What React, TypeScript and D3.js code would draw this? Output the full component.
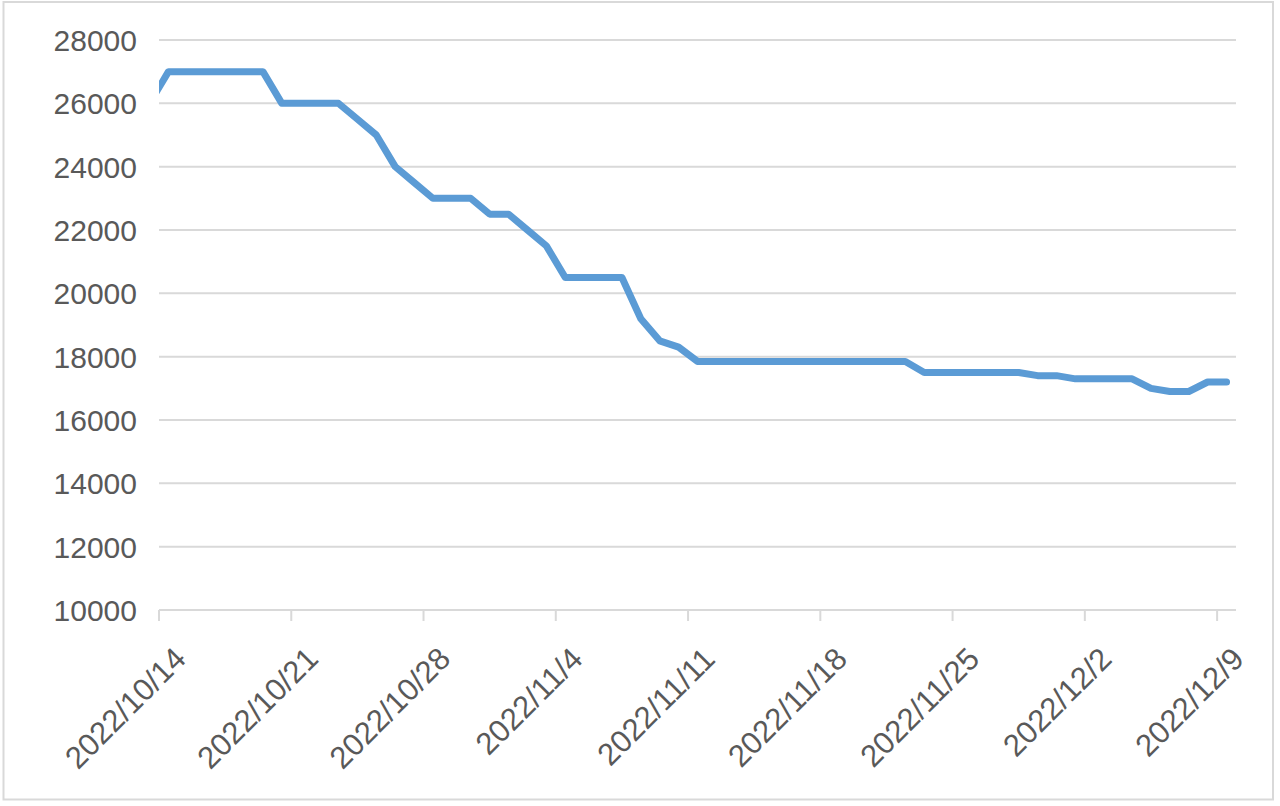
import React from "react";
import * as d3 from "d3";

const dates: string[] = [
  "2022-10-13", "2022-10-14", "2022-10-15", "2022-10-16", "2022-10-17", "2022-10-18", "2022-10-19",
  "2022-10-20", "2022-10-21", "2022-10-22", "2022-10-23", "2022-10-24", "2022-10-25", "2022-10-26",
  "2022-10-27", "2022-10-28", "2022-10-29", "2022-10-30", "2022-10-31", "2022-11-01", "2022-11-02",
  "2022-11-03", "2022-11-04", "2022-11-05", "2022-11-06", "2022-11-07", "2022-11-08", "2022-11-09",
  "2022-11-10", "2022-11-11", "2022-11-12", "2022-11-13", "2022-11-14", "2022-11-15", "2022-11-16",
  "2022-11-17", "2022-11-18", "2022-11-19", "2022-11-20", "2022-11-21", "2022-11-22", "2022-11-23",
  "2022-11-24", "2022-11-25", "2022-11-26", "2022-11-27", "2022-11-28", "2022-11-29", "2022-11-30",
  "2022-12-01", "2022-12-02", "2022-12-03", "2022-12-04", "2022-12-05", "2022-12-06", "2022-12-07",
  "2022-12-08", "2022-12-09",
];

const prices: number[] = [
  26000, 27000, 27000, 27000, 27000, 27000, 27000,
  26000, 26000, 26000, 26000, 25500, 25000, 24000,
  23500, 23000, 23000, 23000, 22500, 22500, 22000,
  21500, 20500, 20500, 20500, 20500, 19200, 18500,
  18300, 17850, 17850, 17850, 17850, 17850, 17850,
  17850, 17850, 17850, 17850, 17850, 17850, 17500,
  17500, 17500, 17500, 17500, 17500, 17400, 17400,
  17300, 17300, 17300, 17300, 17000, 16900, 16900,
  17200, 17200,
];

const yTicks: number[] = [10000, 12000, 14000, 16000, 18000, 20000, 22000, 24000, 26000, 28000];

const xTickLabels: string[] = [
  "2022/10/14", "2022/10/21", "2022/10/28", "2022/11/4", "2022/11/11",
  "2022/11/18", "2022/11/25", "2022/12/2", "2022/12/9",
];
const xTickDates: string[] = [
  "2022-10-14", "2022-10-21", "2022-10-28", "2022-11-04", "2022-11-11",
  "2022-11-18", "2022-11-25", "2022-12-02", "2022-12-09",
];

const W = 1280;
const H = 806;
const left = 159;
const right = 1236;
const top = 40;
const bottom = 610;

const parse = (s: string) => new Date(s + "T00:00:00Z");
const DAY = 86400000;

export default function App() {
  const x = d3
    .scaleUtc()
    .domain([parse("2022-10-14"), parse("2022-12-10")])
    .range([left, right]);
  const y = d3.scaleLinear().domain([10000, 28000]).range([bottom, top]);

  const pts: [number, number][] = dates.map((d, i) => [
    x(new Date(parse(d).getTime() + DAY / 2)),
    y(prices[i]),
  ]);
  const line = d3.line<[number, number]>().x((p) => p[0]).y((p) => p[1])(pts) || "";

  const gridColor = "#d9d9d9";
  const textColor = "#595959";
  const font = "'Liberation Sans', Arial, Helvetica, sans-serif";

  return (
    <svg
      width={W}
      height={H}
      style={{ position: "absolute", left: 0, top: 0, background: "#fff" }}
    >
      <defs>
        <clipPath id="plotClip">
          <rect x={left} y={0} width={right - left} height={bottom} />
        </clipPath>
      </defs>
      <rect x={0} y={0} width={W} height={H} fill="#fff" />
      <rect
        x={3.5}
        y={2}
        width={1269.5}
        height={797.5}
        fill="none"
        stroke={gridColor}
        strokeWidth={2}
      />
      {yTicks.map((t) => (
        <g key={t}>
          <line
            x1={left}
            x2={right}
            y1={y(t)}
            y2={y(t)}
            stroke={gridColor}
            strokeWidth={2}
          />
          <text
            x={137}
            y={y(t) + 11}
            textAnchor="end"
            fontFamily={font}
            fontSize={30}
            fill={textColor}
          >
            {t}
          </text>
        </g>
      ))}
      {xTickDates.map((d, i) => {
        const tx = x(parse(d));
        return (
          <g key={d}>
            <line
              x1={tx}
              x2={tx}
              y1={bottom}
              y2={bottom + 11}
              stroke={gridColor}
              strokeWidth={2}
            />
            <text
              transform={`translate(${tx + 21},${653}) rotate(-45)`}
              textAnchor="end"
              dy="0.35em"
              fontFamily={font}
              fontSize={31}
              fill={textColor}
            >
              {xTickLabels[i]}
            </text>
          </g>
        );
      })}
      <path
        d={line}
        fill="none"
        stroke="#5b9bd5"
        strokeWidth={7}
        strokeLinejoin="round"
        strokeLinecap="round"
        clipPath="url(#plotClip)"
      />
    </svg>
  );
}
